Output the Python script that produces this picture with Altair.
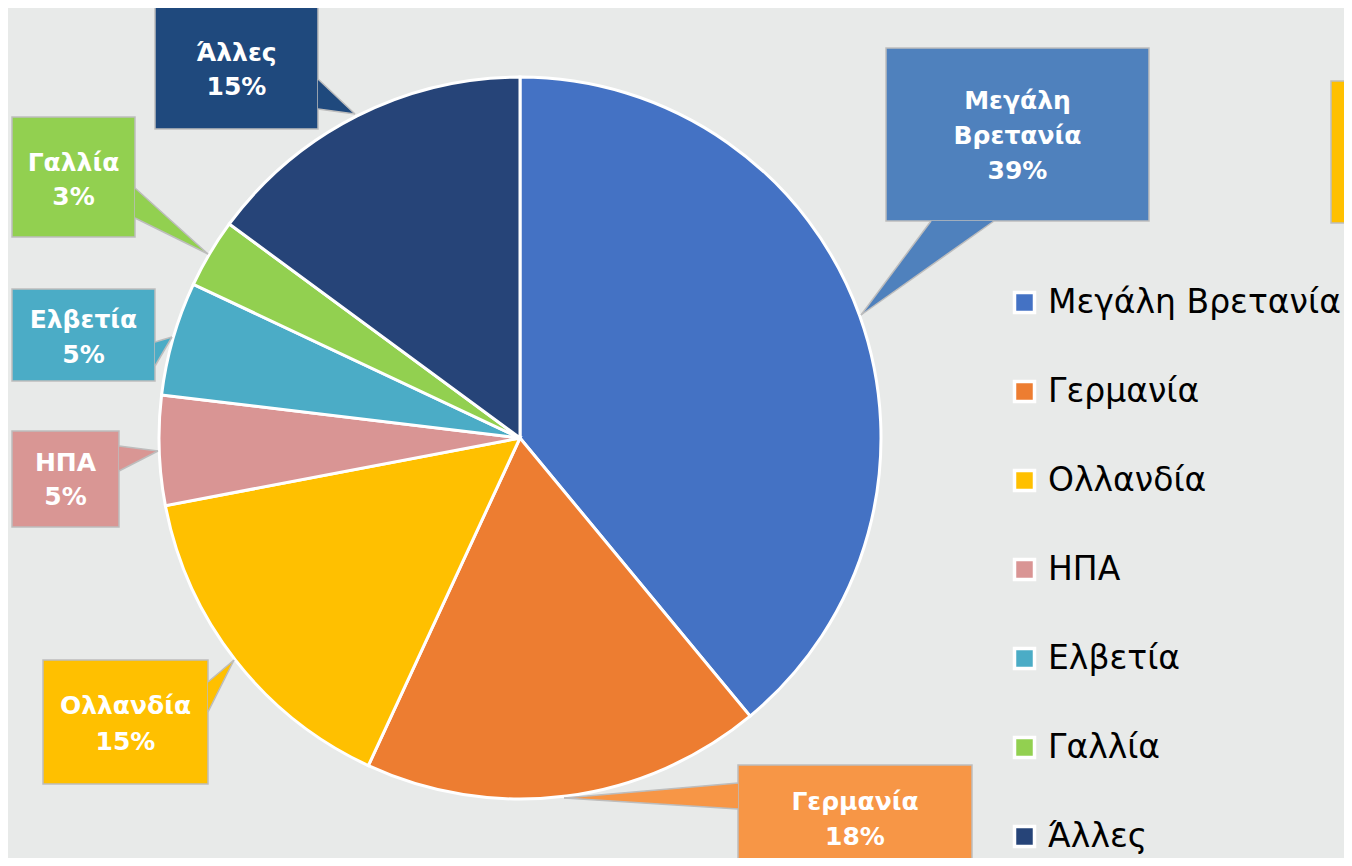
import altair as alt
import pandas as pd

# ---- data ----
countries = ["Μεγάλη Βρετανία", "Γερμανία", "Ολλανδία", "ΗΠΑ", "Ελβετία", "Γαλλία", "Άλλες"]
shares = [39.0, 17.9, 15.1, 4.9, 5.1, 3.1, 14.9]
slice_colors = ["#4472C4", "#ED7D31", "#FFC000", "#D99594", "#4BACC6", "#92D050", "#264478"]
callout_colors = ["#4F81BD", "#F79646", "#FFC000", "#D99694", "#4BACC6", "#92D050", "#1F497D"]
callout_names = [["Μεγάλη", "Βρετανία"], ["Γερμανία"], ["Ολλανδία"], ["ΗΠΑ"], ["Ελβετία"], ["Γαλλία"], ["Άλλες"]]

# ---- layout (page pixel coordinates) ----
OFF = 8
W, H = 1336, 850
CX, CY, R = 520, 438, 361
boxes = [(886, 48, 1149, 221), (738, 765, 972, 885), (43, 660, 208, 784), (12, 431, 119, 527),
         (12, 289, 155, 381), (12, 117, 135, 237), (155, 6, 318, 129)]
pointers = [((931, 221), (994, 221), (861, 315)),
            ((738, 783), (738, 809), (564, 798)),
            ((208, 682), (208, 712), (234, 660)),
            ((119, 446), (119, 471), (158, 451)),
            ((155, 342), (155, 366), (172, 337)),
            ((135, 188), (135, 218), (208, 254)),
            ((318, 79), (318, 109), (355, 114))]
text_rows = [[101, 136, 171], [802, 837], [706, 742], [463, 497], [320, 355], [163, 197], [53, 87]]
extra_box = (1331, 81, 1370, 223)
BG = "#E8EAE9"
BORDER = "#BDBDBD"

# ---- tables ----
pie_df = pd.DataFrame({"country": countries, "share": shares, "idx": list(range(len(countries)))})

box_rows = []
for c, (x0, y0, x1, y1), col in zip(countries, boxes, callout_colors):
    box_rows.append({"name": c, "x": x0 - OFF, "x2": x1 - OFF, "y": y0 - OFF, "y2": y1 - OFF, "fill": col})
x0, y0, x1, y1 = extra_box
box_rows.append({"name": "extra", "x": x0 - OFF, "x2": x1 - OFF, "y": y0 - OFF, "y2": y1 - OFF, "fill": "#FFC000"})
box_df = pd.DataFrame(box_rows)


def tri_rows(name, pts, col):
    p = sorted([(a - OFF, b - OFF) for a, b in pts])
    (xa, ya), (xb, yb), (xc, yc) = p
    if xa == xb:
        rows = [(xa, min(ya, yb), max(ya, yb)), (xc, yc, yc)]
    elif xb == xc:
        rows = [(xa, ya, ya), (xb, min(yb, yc), max(yb, yc))]
    else:
        t = (xb - xa) / (xc - xa)
        yi = ya + (yc - ya) * t
        rows = [(xa, ya, ya), (xb, yb, yi), (xc, yc, yc)]
    return [{"name": name, "x": x, "y": y, "y2": y2, "fill": col} for x, y, y2 in rows]


tri = []
edges = []
for c, pts, col in zip(countries, pointers, callout_colors):
    tri += tri_rows(c, pts, col)
    (ax, ay), (bx, by), (tx, ty) = pts
    edges.append({"x": ax - OFF, "y": ay - OFF, "x2": tx - OFF, "y2": ty - OFF})
    edges.append({"x": bx - OFF, "y": by - OFF, "x2": tx - OFF, "y2": ty - OFF})
tri_df = pd.DataFrame(tri)
edge_df = pd.DataFrame(edges)

name_rows, pct_rows = [], []
for c, s, names, ys, (bx0, by0, bx1, by1) in zip(countries, shares, callout_names, text_rows, boxes):
    xc = (bx0 + bx1) / 2 - OFF
    for n, yy in zip(names, ys[:-1]):
        name_rows.append({"x": xc, "y": yy - OFF, "t": n})
    pct_rows.append({"x": xc, "y": ys[-1] - OFF, "t": f"{round(s)}%"})
name_df = pd.DataFrame(name_rows)
pct_df = pd.DataFrame(pct_rows)

xs = alt.Scale(domain=[0, W], nice=False, zero=False)
ys_ = alt.Scale(domain=[0, H], nice=False, zero=False, reverse=True)

pie = alt.Chart(pie_df).mark_arc(radius=R, stroke="white", strokeWidth=3).encode(
    theta=alt.Theta("share:Q", stack=True),
    color=alt.Color("country:N", sort=countries,
                    scale=alt.Scale(domain=countries, range=slice_colors),
                    legend=alt.Legend(orient="none", legendX=1008 - OFF, legendY=286 - OFF,
                                      title=None, symbolType="square", symbolSize=400,
                                      symbolStrokeColor="white", symbolStrokeWidth=3.5,
                                      labelFont="DejaVu Sans", labelFontSize=33, labelColor="black",
                                      labelOffset=7, rowPadding=54, padding=0, labelLimit=400)),
    order=alt.Order("idx:Q"),
    x=alt.value(CX - OFF), y=alt.value(CY - OFF),
)

boxes_l = alt.Chart(box_df).mark_rect(stroke=BORDER, strokeWidth=1.5).encode(
    x=alt.X("x:Q", scale=xs, axis=None), x2="x2:Q",
    y=alt.Y("y:Q", scale=ys_, axis=None), y2="y2:Q",
    fill=alt.Fill("fill:N", scale=None),
)

tri_l = alt.Chart(tri_df).mark_area(orient="vertical").encode(
    x=alt.X("x:Q", scale=xs, axis=None),
    y=alt.Y("y:Q", scale=ys_, axis=None, stack=None), y2="y2:Q",
    fill=alt.Fill("fill:N", scale=None),
    detail="name:N",
)

edge_l = alt.Chart(edge_df).mark_rule(color=BORDER, strokeWidth=1.5).encode(
    x=alt.X("x:Q", scale=xs, axis=None), x2="x2:Q",
    y=alt.Y("y:Q", scale=ys_, axis=None), y2="y2:Q",
)

name_l = alt.Chart(name_df).mark_text(font="DejaVu Sans", fontSize=25, fontWeight="bold",
                                      color="white", align="center", baseline="middle").encode(
    x=alt.X("x:Q", scale=xs, axis=None), y=alt.Y("y:Q", scale=ys_, axis=None), text="t:N")

pct_l = alt.Chart(pct_df).mark_text(font="DejaVu Sans", fontSize=25, fontWeight="bold",
                                     color="white", align="center", baseline="middle").encode(
    x=alt.X("x:Q", scale=xs, axis=None), y=alt.Y("y:Q", scale=ys_, axis=None), text="t:N")

chart = alt.layer(pie, boxes_l, tri_l, edge_l, name_l, pct_l).properties(
    width=W, height=H, autosize=alt.AutoSizeParams(type="none"), padding=0, background=BG
).configure_view(stroke=None)

chart.save("out.html", embed_options={"renderer": "svg", "actions": False})
